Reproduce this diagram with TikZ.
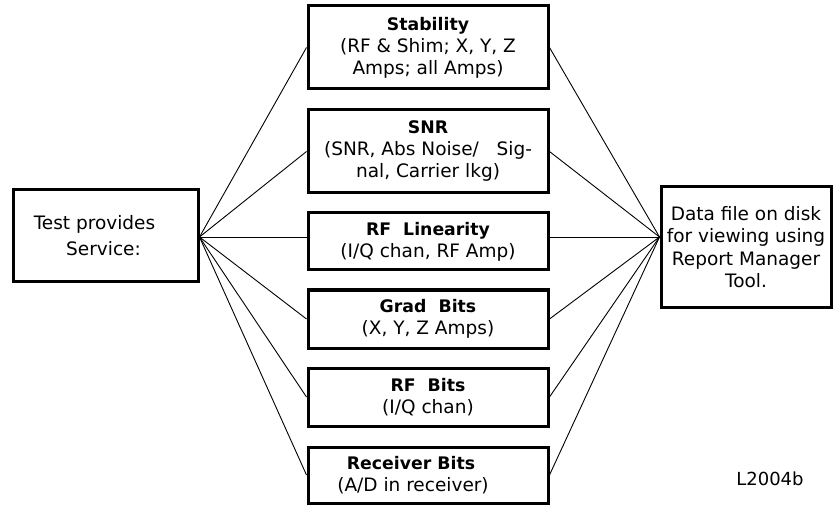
\documentclass[tikz,border=0pt]{standalone}
\usepackage{fontspec}
\setmainfont{DejaVu Sans}
\begin{document}
\begin{tikzpicture}[x=1pt,y=-1pt,
  box/.style={draw=black,line width=3pt,align=center,inner sep=0pt,
    font=\fontsize{18.5}{22}\selectfont},
  mid/.style={box,minimum width=240pt},
  conn/.style={draw=black,line width=0.9pt}]
\useasboundingbox (0,0) rectangle (833,505);
\newcommand{\ttlfont}{\bfseries\fontsize{17.3}{22}\selectfont}
\node[box,minimum width=185pt,minimum height=92pt,font=\fontsize{18.5}{26}\selectfont] (src) at (105.5,236) {Test provides\hspace*{22pt}\\Service:\hspace*{4pt}};
\node[mid,minimum height=83pt] (stab) at (428,47.5) {{\ttlfont Stability}\\(RF \& Shim; X, Y, Z\\Amps; all Amps)};
\node[mid,minimum height=83pt] (snr) at (428,151.5) {{\ttlfont SNR}\\(SNR, Abs Noise/\ \ \ Sig-\\nal, Carrier lkg)};
\node[mid,minimum height=57pt] (rfl) at (428,241.5) {{\ttlfont RF\ \ Linearity}\\(I/Q chan, RF Amp)};
\node[mid,minimum height=58pt] (grad) at (428,319) {{\ttlfont Grad\ \ Bits}\\(X, Y, Z Amps)};
\node[mid,minimum height=58pt] (rfb) at (428,397) {{\ttlfont RF\ \ Bits}\\(I/Q chan)};
\node[mid,minimum height=56pt] (rcv) at (428,475) {{\ttlfont Receiver Bits}\hspace*{34pt}\\(A/D in receiver)\hspace*{30pt}};
\node[box,minimum width=170pt,minimum height=120pt,font=\fontsize{18.5}{22.5}\selectfont] (dst) at (746,247) {Data file on disk\\for viewing using\\Report Manager\\Tool.};
\node[font=\fontsize{18}{22}\selectfont,inner sep=0pt] (lbl) at (770,479) {L2004b};
\coordinate (lc) at (src.east |- 0,237);
\coordinate (rc) at (dst.west |- 0,237);
\foreach \n in {stab,snr,grad,rfb,rcv}{
  \draw[conn] (lc) -- (\n.west);
  \draw[conn] (\n.east) -- (rc);
}
\draw[conn] (lc) -- (lc -| rfl.west);
\draw[conn] (rc -| rfl.east) -- (rc);
\end{tikzpicture}
\end{document}
